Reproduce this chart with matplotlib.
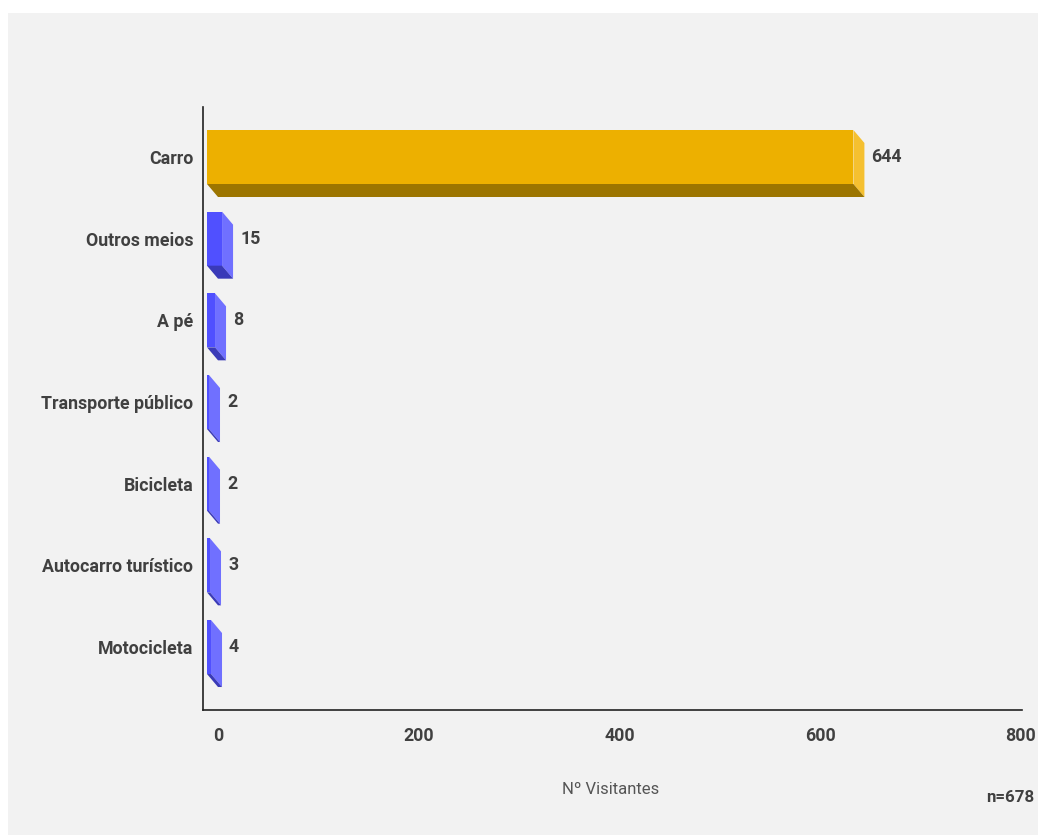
import matplotlib
matplotlib.use("Agg")
import matplotlib.pyplot as plt
from matplotlib.patches import Polygon, Rectangle

categories = ["Carro", "Outros meios", "A pé", "Transporte público",
              "Bicicleta", "Autocarro turístico", "Motocicleta"]
values = [644, 15, 8, 2, 2, 3, 4]
xticks = [0, 200, 400, 600, 800]
xlabel = "Nº Visitantes"
note = "n=678"

W, H = 1038, 835
fig = plt.figure(figsize=(W / 100, H / 100), dpi=100)
fig.patch.set_facecolor("white")
fig.add_artist(Rectangle((8 / W, 0), 1 - 8 / W, 1 - 13 / H, transform=fig.transFigure,
                         facecolor="#f2f2f2", edgecolor="none", zorder=0))

ax_l, ax_r, ax_t, ax_b = 203, 1022, 107, 710
ax = fig.add_axes([ax_l / W, 1 - ax_b / H, (ax_r - ax_l) / W, (ax_b - ax_t) / H])
ax.set_facecolor("none")

# pixel scale
x0_px, x800_px = 218, 1021
ppu = (x800_px - x0_px) / 800.0
xmin = (ax_l - x0_px) / ppu
xmax = (ax_r - x0_px) / ppu
c0_px, step_px = 157, 81.67
ymin = (ax_t - c0_px) / step_px
ymax = (ax_b - c0_px) / step_px
ax.set_xlim(xmin, xmax)
ax.set_ylim(ymax, ymin)

dxu = 11 / ppu
dyu = 13 / step_px
h = 27 / step_px

gold = ("#edb000", "#f5c030", "#9c7500")
blue = ("#5050ff", "#7070ff", "#3a3ab8")
txt = "#404040"
fs = 12.8

for i, v in enumerate(values):
    front, side, bottom = gold if i == 0 else blue
    c = i
    ax.add_patch(Polygon([(-dxu, c - h), (v - dxu, c - h), (v - dxu, c + h), (-dxu, c + h)],
                         closed=True, facecolor=front, edgecolor="none", zorder=3))
    ax.add_patch(Polygon([(v - dxu, c - h), (v, c - h + dyu), (v, c + h + dyu), (v - dxu, c + h)],
                         closed=True, facecolor=side, edgecolor="none", zorder=3))
    ax.add_patch(Polygon([(-dxu, c + h), (v - dxu, c + h), (v, c + h + dyu), (0, c + h + dyu)],
                         closed=True, facecolor=bottom, edgecolor="none", zorder=3))
    ax.text(v + 7 / ppu, c, str(v), ha="left", va="center", fontsize=fs,
            fontweight="bold", color=txt, family="Roboto", zorder=4)

for s in ["top", "right"]:
    ax.spines[s].set_visible(False)
for s in ["left", "bottom"]:
    ax.spines[s].set_color("#222222")
    ax.spines[s].set_linewidth(1.2)

ax.set_yticks(range(len(categories)))
ax.set_yticklabels(categories)
ax.set_xticks(xticks)
ax.set_xticklabels([str(t) for t in xticks])
ax.tick_params(axis="both", length=0, colors=txt, labelsize=fs)
ax.tick_params(axis="y", pad=7)
ax.tick_params(axis="x", pad=12)
for lab in ax.get_xticklabels() + ax.get_yticklabels():
    lab.set_fontweight("bold")
    lab.set_family("Roboto")

fig.text(611 / W, 1 - 789 / H, xlabel, ha="center", va="center", fontsize=12,
         color="#555555", family="Roboto")
fig.text(1034 / W, 1 - 797 / H, note, ha="right", va="center", fontsize=12.2,
         fontweight="bold", color=txt, family="Roboto")

fig.savefig("out.png", dpi=100, facecolor=fig.get_facecolor())
